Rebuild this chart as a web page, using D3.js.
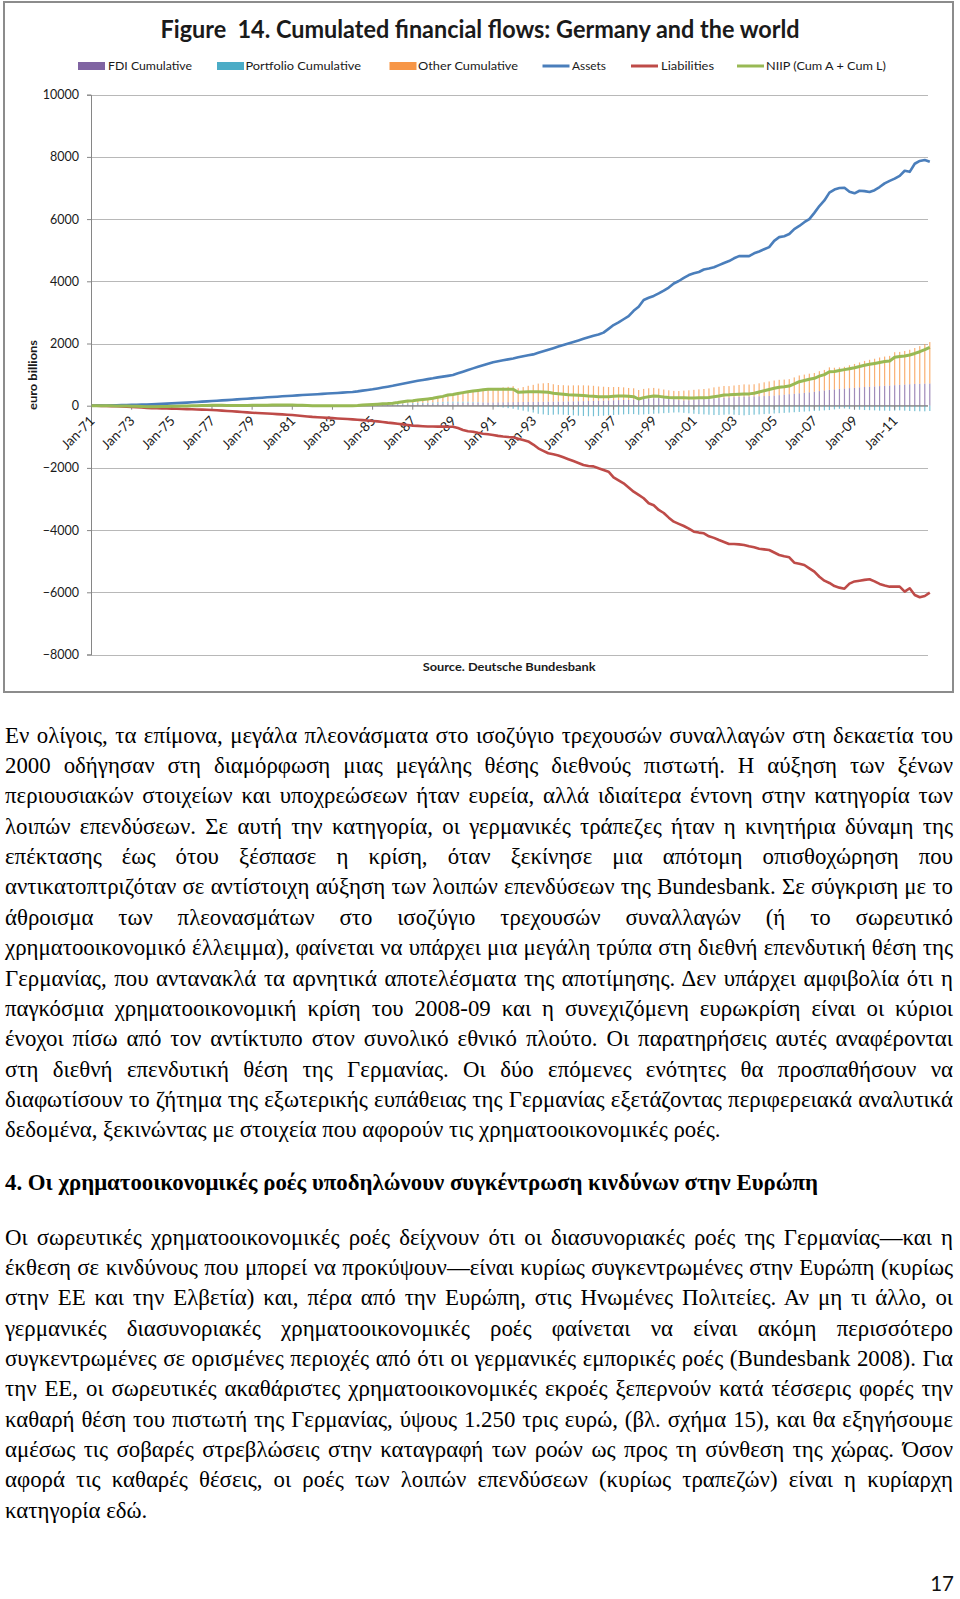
<!DOCTYPE html>
<html><head><meta charset="utf-8">
<script src="https://cdn.jsdelivr.net/npm/d3@7"></script>
<style>
html,body{margin:0;padding:0;background:#fff;}
body{width:960px;height:1599px;overflow:hidden;position:relative;}
svg{position:absolute;left:0;top:0;}
.ln{position:absolute;left:5px;height:30px;line-height:30px;font-family:"Liberation Serif","Times New Roman",serif;white-space:pre;color:#000;}
</style></head><body>
<svg id="chart" width="960" height="700"></svg>
<div id="text"></div>
<script>
// ---------------- DATA ----------------
const startYear = 1971, endYear = 2012;           // quarterly categories 1971Q1 .. 2012Q4
const tickLabels = ["Jan-71","Jan-73","Jan-75","Jan-77","Jan-79","Jan-81","Jan-83","Jan-85","Jan-87","Jan-89",
  "Jan-91","Jan-93","Jan-95","Jan-97","Jan-99","Jan-01","Jan-03","Jan-05","Jan-07","Jan-09","Jan-11"];
const yTicks = [10000, 8000, 6000, 4000, 2000, 0, -2000, -4000, -6000, -8000];

const assets = [
  0,3,6,8, 10,13,17,21, 25,30,35,40, 45,52,60,67, 75,83,92,100,
  110,120,130,140, 150,160,170,180, 190,202,214,225, 237,248,258,270, 280,290,302,312,
  322,332,342,350, 360,370,380,390, 400,410,420,430, 440,460,485,505, 527,555,585,612,
  640,672,705,740, 772,800,828,855, 880,910,935,960, 987,1040,1095,1150, 1200,1250,1300,1350,
  1400,1430,1460,1490, 1520,1555,1590,1620, 1650,1700,1750,1800, 1850,1900,1950,2000, 2050,2100,2150,2200,
  2250,2290,2350,2470, 2594,2680,2780,2880, 3050,3180,3400,3470, 3530,3610,3700,3800, 3930,4010,4110,4200,
  4256,4300,4380,4410, 4450,4520,4590,4650, 4740,4810,4813,4810, 4900,4960,5030,5100, 5300,5420,5450,5520,
  5680,5780,5900,6000, 6200,6420,6600,6850, 6950,7000,7010,6880, 6830,6912,6900,6870, 6930,7030,7150,7230,
  7300,7390,7555,7520, 7780,7870,7900,7844];

const liabilities = [
  0,-3,-6,-10, -15,-20,-26,-33, -40,-50,-60,-70, -80,-84,-88,-92, -95,-100,-105,-110,
  -115,-120,-126,-132, -138,-148,-158,-170, -180,-192,-204,-215, -225,-235,-245,-252, -260,-270,-280,-290,
  -300,-315,-330,-345, -360,-370,-380,-390, -400,-410,-420,-430, -440,-452,-465,-478, -490,-505,-525,-545,
  -560,-580,-600,-620, -640,-650,-660,-668, -670,-672,-674,-675, -675,-720,-780,-820, -836,-870,-900,-920,
  -940,-970,-990,-1005, -1016,-1060,-1103,-1150, -1250,-1370,-1450,-1530, -1560,-1600,-1659,-1720, -1780,-1840,-1906,-1940,
  -1950,-2013,-2067,-2122, -2302,-2400,-2495,-2630, -2765,-2870,-2977,-3138, -3200,-3353,-3450,-3600, -3729,-3800,-3868,-3950,
  -4051,-4080,-4102,-4200, -4250,-4318,-4380,-4446, -4446,-4460,-4478,-4520, -4552,-4600,-4620,-4639, -4720,-4800,-4840,-4874,
  -5047,-5080,-5121,-5230, -5337,-5500,-5626,-5700, -5800,-5850,-5883,-5720, -5650,-5626,-5600,-5581, -5650,-5732,-5780,-5819,
  -5819,-5819,-5980,-5871, -6086,-6160,-6118,-6012];

const niip = [
  0,0,0,-2, -5,-8,-10,-12, -15,-20,-25,-30, -35,-32,-28,-25, -20,-17,-13,-10,
  -5,0,4,8, 12,12,12,10, 10,10,10,10, 12,13,13,18, 20,20,22,22,
  22,17,12,5, 0,0,0,0, 0,0,0,0, 0,8,20,27, 37,50,60,67,
  80,100,130,150, 161,180,200,218, 237,270,300,344, 360,390,420,450, 470,490,510,527,
  527,530,530,527, 527,430,440,450, 450,450,440,430, 400,385,370,350, 344,335,325,310,
  300,290,290,290, 300,312,310,300, 290,215,260,290, 312,300,280,265, 257,257,255,250,
  250,255,257,265, 290,310,344,350, 360,367,376,380, 400,440,482,520, 560,592,610,633,
  700,772,810,850, 881,950,1000,1093, 1100,1130,1160,1190, 1222,1260,1300,1331, 1360,1390,1420,1437,
  1560,1580,1600,1630, 1680,1736,1800,1877];

// stacked column series start at 1985Q1
const barStartYear = 1985;
const fdiCumulative = [
  20,22,25,28, 30,34,38,42, 46,50,54,58, 62,66,70,74, 78,82,86,90,
  94,98,100,104, 108,110,112,114, 116,118,120,122, 124,126,128,130, 132,134,136,138,
  140,143,146,150, 155,160,165,170, 175,180,185,190, 200,210,220,230, 240,245,240,230,
  210,180,170,175, 190,205,215,225, 235,245,255,265, 275,285,290,295, 300,305,310,315,
  325,340,355,370, 385,400,415,430, 450,470,490,510, 525,540,555,565, 575,590,600,610,
  620,630,640,650, 660,670,680,690, 700,705,710,715];
const portfolioCumulative = [
  0,5,10,15, 20,25,30,35, 40,40,40,40, 45,50,55,60, 55,50,45,40,
  30,20,10,0, -20,-40,-60,-80, -100,-130,-160,-190, -220,-260,-280,-300, -290,-280,-290,-300,
  -310,-320,-330,-340, -340,-330,-320,-310, -300,-290,-280,-270, -270,-290,-280,-270, -260,-250,-240,-230,
  -220,-215,-230,-245, -260,-270,-280,-290, -300,-300,-290,-280, -290,-300,-310,-300, -290,-280,-270,-260,
  -250,-240,-230,-220, -210,-200,-190,-180, -170,-160,-150,-140, -120,-100,-90,-110, -120,-130,-140,-145,
  -150,-160,-160,-165, -160,-150,-160,-170, -175,-180,-180,-170];
const otherCumulative = [
  17,23,25,24, 30,41,62,73, 75,90,106,120, 130,154,175,210, 227,258,289,320,
  346,372,400,423, 439,460,478,493, 511,442,480,518, 546,584,592,600, 558,531,524,512,
  514,512,509,500, 485,460,445,430, 425,422,405,380, 360,295,320,330, 332,305,280,265,
  267,292,315,320, 320,320,322,330, 355,365,379,365, 375,382,396,385, 390,415,442,465,
  485,492,485,483, 525,572,585,600, 601,640,660,723, 695,690,695,735, 767,800,840,866,
  890,920,940,952, 1060,1060,1080,1110, 1155,1211,1270,1332];

const legendItems = [
  {name:"FDI Cumulative", type:"bar", color:"#8064A2"},
  {name:"Portfolio Cumulative", type:"bar", color:"#4BACC6"},
  {name:"Other Cumulative", type:"bar", color:"#F79646"},
  {name:"Assets", type:"line", color:"#4A7EBB"},
  {name:"Liabilities", type:"line", color:"#BE4B48"},
  {name:"NIIP (Cum A + Cum L)", type:"line", color:"#98B954"}
];

// ---------------- CHART ----------------
const nQ = (endYear - startYear + 1) * 4;
const categories = d3.range(nQ).map(i => `${startYear + Math.floor(i/4)}Q${i%4+1}`);
const barOffset = (barStartYear - startYear) * 4;

const svg = d3.select("#chart");
const font = "Lato, 'Open Sans', sans-serif";
const ink = "#1a1a1a";

const plotL = 91, plotR = 928;
const x = d3.scaleLinear().domain([0, nQ - 1]).range([91.5, 929.8]);
const y = d3.scaleLinear().domain([-8000, 10000]).range([654.5, 94.7]);

// outer frame
svg.append("rect").attr("x", 4).attr("y", 2).attr("width", 949).attr("height", 690)
  .attr("fill", "#fff").attr("stroke", "#8c8c8c").attr("stroke-width", 2);

// title
svg.append("text").attr("x", 480).attr("y", 38).attr("text-anchor", "middle")
  .style("white-space", "pre")
  .attr("font-family", font).attr("font-weight", "bold").attr("font-size", 24).attr("fill", ink)
  .attr("textLength", 639).attr("lengthAdjust", "spacingAndGlyphs")
  .text("Figure  14. Cumulated financial flows: Germany and the world");

// legend
const legendPos = [
  {sx:78, tx:108, tw:84}, {sx:217, tx:245.5, tw:115.5}, {sx:389.5, tx:418, tw:100},
  {sx:542.5, tx:572, tw:34}, {sx:631, tx:661, tw:53}, {sx:737, tx:766, tw:120}
];
const lg = svg.append("g");
legendItems.forEach((it, k) => {
  const p = legendPos[k];
  if (it.type === "bar") {
    lg.append("rect").attr("x", p.sx).attr("y", 62).attr("width", 27).attr("height", 8).attr("fill", it.color);
  } else {
    lg.append("line").attr("x1", p.sx).attr("x2", p.sx + 27).attr("y1", 66).attr("y2", 66)
      .attr("stroke", it.color).attr("stroke-width", 3);
  }
  lg.append("text").attr("x", p.tx).attr("y", 70.3).attr("font-family", font).attr("font-size", 12)
    .attr("fill", ink).attr("textLength", p.tw).attr("lengthAdjust", "spacingAndGlyphs").text(it.name);
});

// gridlines
svg.append("g").selectAll("line").data(yTicks).join("line")
  .attr("x1", plotL).attr("x2", plotR).attr("y1", d => Math.round(y(d)) + 0.5).attr("y2", d => Math.round(y(d)) + 0.5)
  .attr("stroke", "#b8b8b8").attr("stroke-width", 1);

// y axis
const yAxis = svg.append("g").attr("transform", `translate(${plotL},0)`)
  .call(d3.axisLeft(y).tickValues(yTicks).tickSize(4).tickPadding(8).tickFormat(d3.format("d")));
yAxis.select(".domain").attr("stroke", "#868686");
yAxis.selectAll(".tick line").attr("stroke", "#868686");
yAxis.selectAll(".tick text").attr("font-family", font).attr("font-size", 12.5).attr("fill", ink);

// stacked bars
const barRows = d3.range(fdiCumulative.length).map(j => ({
  i: j + barOffset, fdi: fdiCumulative[j], portfolio: portfolioCumulative[j], other: otherCumulative[j]
}));
const keys = ["fdi", "portfolio", "other"];
const stack = d3.stack().keys(keys).offset(d3.stackOffsetDiverging)(barRows);
const barColors = {fdi: "#8064A2", portfolio: "#4BACC6", other: "#F79646"};
svg.append("g").selectAll("g").data(stack).join("g")
  .attr("fill", d => barColors[d.key]).attr("fill-opacity", 0.75)
  .selectAll("rect").data(d => d).join("rect")
  .attr("x", d => x(d.data.i) - 0.6).attr("width", 1.2)
  .attr("y", d => y(Math.max(d[0], d[1])))
  .attr("height", d => Math.abs(y(d[0]) - y(d[1])));

// x axis at zero
const tickIdx = tickLabels.map((_, k) => k * 8);
const xAxis = svg.append("g").attr("transform", `translate(0,${y(0)})`);
xAxis.append("line").attr("x1", plotL).attr("x2", plotR).attr("stroke", "#868686");
xAxis.selectAll("line.t").data(tickIdx).join("line").attr("class", "t")
  .attr("x1", d => x(d)).attr("x2", d => x(d)).attr("y1", 0).attr("y2", 4).attr("stroke", "#868686");
xAxis.selectAll("text").data(tickIdx).join("text")
  .attr("transform", d => `translate(${x(d) + 4},${16}) rotate(-45)`)
  .attr("text-anchor", "end").attr("font-family", font).attr("font-size", 13.5).attr("fill", ink)
  .text((d, k) => tickLabels[k]);

// lines
const lineGen = d3.line().x((d, i) => x(i)).y(d => y(d));
[[liabilities, "#BE4B48", 2.6], [assets, "#4A7EBB", 2.6], [niip, "#98B954", 3]].forEach(([data, c, w]) => {
  svg.append("path").datum(data).attr("d", lineGen).attr("fill", "none")
    .attr("stroke", c).attr("stroke-width", w).attr("stroke-linejoin", "round");
});

// y title
svg.append("text").attr("transform", "translate(37,375) rotate(-90)").attr("text-anchor", "middle")
  .attr("font-family", font).attr("font-weight", "bold").attr("font-size", 12).attr("fill", ink)
  .attr("textLength", 70).attr("lengthAdjust", "spacingAndGlyphs").text("euro billions");

// source
svg.append("text").attr("x", 422.7).attr("y", 670.5).attr("font-family", font).attr("font-weight", "bold")
  .attr("font-size", 12).attr("fill", ink).attr("textLength", 173).attr("lengthAdjust", "spacingAndGlyphs")
  .text("Source. Deutsche Bundesbank");

// ---------------- TEXT ----------------
const paragraph1 = [
  "Εν ολίγοις, τα επίμονα, μεγάλα πλεονάσματα στο ισοζύγιο τρεχουσών συναλλαγών στη δεκαετία του",
  "2000 οδήγησαν στη διαμόρφωση μιας μεγάλης θέσης διεθνούς πιστωτή. Η αύξηση των ξένων",
  "περιουσιακών στοιχείων και υποχρεώσεων ήταν ευρεία, αλλά ιδιαίτερα έντονη στην κατηγορία των",
  "λοιπών επενδύσεων. Σε αυτή την κατηγορία, οι γερμανικές τράπεζες ήταν η κινητήρια δύναμη της",
  "επέκτασης έως ότου ξέσπασε η κρίση, όταν ξεκίνησε μια απότομη οπισθοχώρηση που",
  "αντικατοπτριζόταν σε αντίστοιχη αύξηση των λοιπών επενδύσεων της Bundesbank. Σε σύγκριση με το",
  "άθροισμα των πλεονασμάτων στο ισοζύγιο τρεχουσών συναλλαγών (ή το σωρευτικό",
  "χρηματοοικονομικό έλλειμμα), φαίνεται να υπάρχει μια μεγάλη τρύπα στη διεθνή επενδυτική θέση της",
  "Γερμανίας, που αντανακλά τα αρνητικά αποτελέσματα της αποτίμησης. Δεν υπάρχει αμφιβολία ότι η",
  "παγκόσμια χρηματοοικονομική κρίση του 2008-09 και η συνεχιζόμενη ευρωκρίση είναι οι κύριοι",
  "ένοχοι πίσω από τον αντίκτυπο στον συνολικό εθνικό πλούτο. Οι παρατηρήσεις αυτές αναφέρονται",
  "στη διεθνή επενδυτική θέση της Γερμανίας. Οι δύο επόμενες ενότητες θα προσπαθήσουν να",
  "διαφωτίσουν το ζήτημα της εξωτερικής ευπάθειας της Γερμανίας εξετάζοντας περιφερειακά αναλυτικά",
  "δεδομένα, ξεκινώντας με στοιχεία που αφορούν τις χρηματοοικονομικές ροές."
];
const heading = "4. Οι χρηματοοικονομικές ροές υποδηλώνουν συγκέντρωση κινδύνων στην Ευρώπη";
const paragraph2 = [
  "Οι σωρευτικές χρηματοοικονομικές ροές δείχνουν ότι οι διασυνοριακές ροές της Γερμανίας—και η",
  "έκθεση σε κινδύνους που μπορεί να προκύψουν—είναι κυρίως συγκεντρωμένες στην Ευρώπη (κυρίως",
  "στην ΕΕ και την Ελβετία) και, πέρα από την Ευρώπη, στις Ηνωμένες Πολιτείες. Αν μη τι άλλο, οι",
  "γερμανικές διασυνοριακές χρηματοοικονομικές ροές φαίνεται να είναι ακόμη περισσότερο",
  "συγκεντρωμένες σε ορισμένες περιοχές από ότι οι γερμανικές εμπορικές ροές (Bundesbank 2008). Για",
  "την ΕΕ, οι σωρευτικές ακαθάριστες χρηματοοικονομικές εκροές ξεπερνούν κατά τέσσερις φορές την",
  "καθαρή θέση του πιστωτή της Γερμανίας, ύψους 1.250 τρις ευρώ, (βλ. σχήμα 15), και θα εξηγήσουμε",
  "αμέσως τις σοβαρές στρεβλώσεις στην καταγραφή των ροών ως προς τη σύνθεση της χώρας. Όσον",
  "αφορά τις καθαρές θέσεις, οι ροές των λοιπών επενδύσεων (κυρίως τραπεζών) είναι η κυρίαρχη",
  "κατηγορία εδώ."
];
const pageNumber = "17";

const textWidth = 948;
const host = d3.select("#text");
function addLine(str, center, justify, bold, fs) {
  const div = host.append("div").attr("class", "ln")
    .style("top", (center - 15) + "px").style("font-size", fs + "px")
    .style("font-weight", bold ? "bold" : "normal");
  const span = div.append("span").text(str);
  if (justify) {
    const w = span.node().getBoundingClientRect().width;
    const spaces = (str.match(/ /g) || []).length;
    if (spaces > 0) div.style("word-spacing", ((textWidth - w) / spaces) + "px");
  }
  return span;
}
// font size fitted to the natural width of the paragraph's last line
const probe = addLine(paragraph1[13], -100, false, false, 20);
const fs = Math.max(18, Math.min(25, 20 * 716 / probe.node().getBoundingClientRect().width));
probe.node().parentNode.remove();

const lineGap = 30.37;
paragraph1.forEach((s, k) => addLine(s, 735.6 + k * lineGap, k < paragraph1.length - 1, false, fs));
addLine(heading, 1183.4, false, true, fs);
paragraph2.forEach((s, k) => addLine(s, 1237.5 + k * lineGap, k < paragraph2.length - 1, false, fs));

d3.select("body").append("div").style("position", "absolute").style("right", "6px").style("top", "1571px")
  .style("font-family", "Lato, sans-serif").style("font-size", "20.5px").style("color", "#111").text(pageNumber);
</script>
</body></html>
